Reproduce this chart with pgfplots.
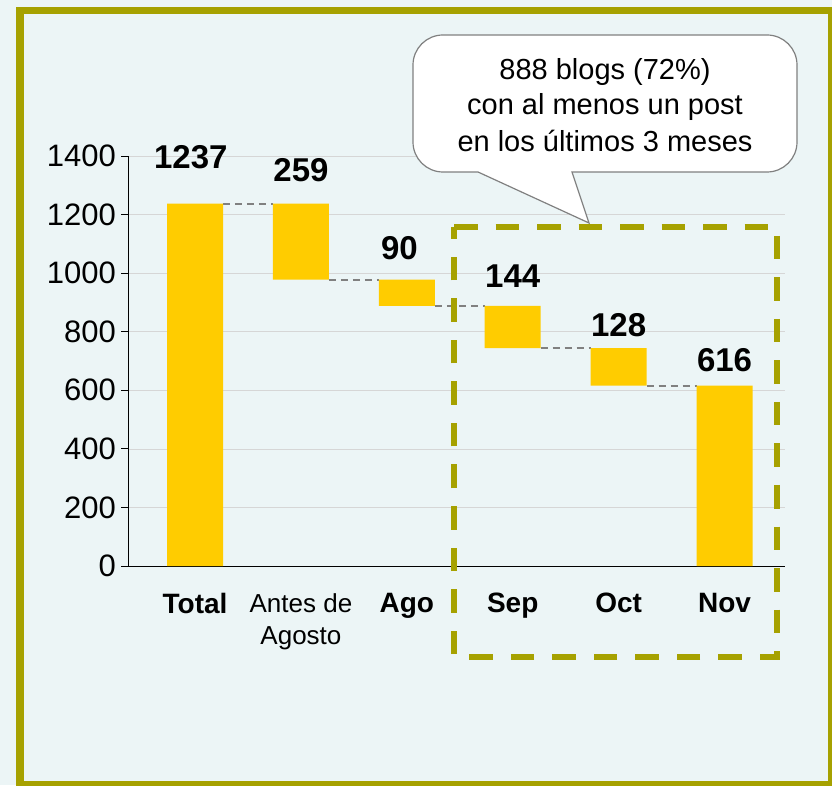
\documentclass[border=0pt]{standalone}
\usepackage{fontspec}
\setmainfont{Liberation Sans}
\usepackage{pgfplots}
\pgfplotsset{compat=1.18}
\usepackage{pgfplotstable}

\definecolor{bgcol}{RGB}{236,245,246}
\definecolor{olivec}{RGB}{166,161,0}
\definecolor{barcol}{RGB}{255,204,0}
\definecolor{gridc}{RGB}{214,214,214}
\definecolor{connc}{RGB}{128,128,128}

% waterfall: invisible base + visible step
\pgfplotstableread{
idx base val
0   0    1237
1   978  259
2   888  90
3   744  144
4   616  128
5   0    616
}\flows

\begin{document}
\begin{tikzpicture}[x=1pt,y=1pt]
\useasboundingbox (0,0) rectangle (832,785);
\fill[bgcol] (0,0) rectangle (832,785);
\clip (0,0) rectangle (832,785);

\begin{axis}[
  at={(128pt,219pt)}, anchor=south west,
  scale only axis, width=657pt, height=410pt,
  xmin=-0.633, xmax=5.571, ymin=0, ymax=1400,
  clip=false,
  ybar stacked, bar width=56pt,
  axis lines*=left,
  axis line style={black, line width=0.8pt},
  ytick={0,200,...,1400},
  ymajorgrids, grid style={gridc, line width=0.6pt},
  tick align=outside, major tick length=7pt,
  ytick style={black, line width=0.8pt},
  xtick={0,...,5}, xtick style={draw=none},
  xticklabels={\textbf{Total},
    {{\fontsize{26}{32}\selectfont Antes de}\\{\fontsize{26}{32}\selectfont Agosto}},
    \textbf{Ago}, \textbf{Sep}, \textbf{Oct}, \textbf{Nov}},
  xticklabel style={font=\fontsize{28}{32}\selectfont, align=center,
    anchor=north, inner sep=0pt, yshift=-20pt},
  yticklabel style={font=\fontsize{31}{36}\selectfont, anchor=east, inner sep=0pt,
    xshift=-5pt,
    /pgf/number format/assume math mode=true,
    /pgf/number format/1000 sep={}},
]
\addplot[draw=none, fill=none] table[x=idx, y=base] {\flows};
\addplot[draw=none, fill=barcol] table[x=idx, y=val] {\flows};

% connectors between steps
\pgfplotsset{conn/.style={sharp plot, stack plots=false, forget plot, connc,
  line width=2pt, dash pattern=on 7pt off 5pt, mark=none, fill=none}}
\addplot[conn] coordinates {(0.264,1237) (0.736,1237)};
\addplot[conn] coordinates {(1.264,978) (1.736,978)};
\addplot[conn] coordinates {(2.264,888) (2.736,888)};
\addplot[conn] coordinates {(3.264,744) (3.736,744)};
\addplot[conn] coordinates {(4.264,616) (4.736,616)};

% value labels
\tikzset{vlab/.style={font=\fontsize{33}{36}\selectfont\bfseries, inner sep=0pt}}
\node[vlab] at (axis cs:-0.04,1237) [yshift=47pt] {1237};
\node[vlab] at (axis cs:1,1237) [yshift=34pt] {259};
\node[vlab] at (axis cs:1.93,978) [yshift=31pt] {90};
\node[vlab] at (axis cs:3,888) [yshift=30pt] {144};
\node[vlab] at (axis cs:4,744) [yshift=23pt] {128};
\node[vlab] at (axis cs:5,616) [yshift=25pt] {616};
\end{axis}

% outer frame
\draw[olivec, line width=7.5pt] (20,0) rectangle (832,774.5);

% highlight of the last three months
\draw[olivec, line width=6pt, dash pattern=on 23.5pt off 18pt]
  (454,558) -- (777,558) -- (777,128) -- (454,128) -- cycle;

% callout
\draw[gray, line width=1.2pt, fill=white, rounded corners=30pt]
  (413,613) -- (413,750) -- (797,750) -- (797,613) [sharp corners]
  -- (572,613) -- (589,562) -- (478,613) [rounded corners=30pt] -- cycle;
\begin{scope}[every node/.style={font=\fontsize{29}{36}\selectfont, inner sep=0pt, anchor=base}]
\node at (605,705) {888 blogs (72\%)};
\node at (605,670) {con al menos un post};
\node at (605,633) {en los últimos 3 meses};
\end{scope}
\end{tikzpicture}
\end{document}
